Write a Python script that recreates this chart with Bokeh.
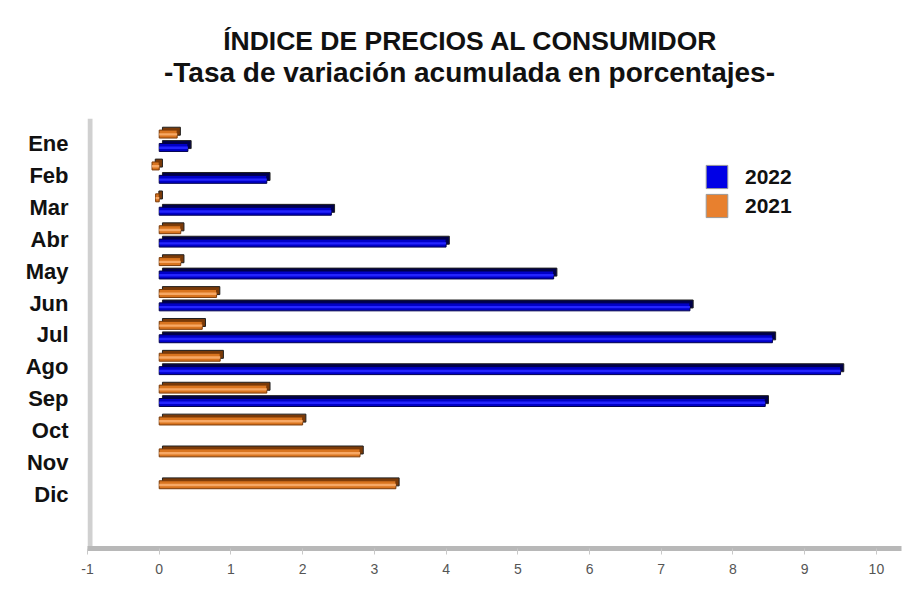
import numpy as np
from bokeh.plotting import figure
from bokeh.models import Range1d, FixedTicker, Legend, LegendItem, Label, ColumnDataSource, BoxAnnotation
from bokeh.embed import file_html
from bokeh.resources import INLINE

months = ["Ene", "Feb", "Mar", "Abr", "May", "Jun", "Jul", "Ago", "Sep", "Oct", "Nov", "Dic"]
ipc_2022 = [0.4, 1.5, 2.4, 4.0, 5.5, 7.4, 8.55, 9.5, 8.45, np.nan, np.nan, np.nan]
ipc_2021 = [0.25, -0.1, -0.05, 0.3, 0.3, 0.8, 0.6, 0.85, 1.5, 2.0, 2.8, 3.3]
x_ticks = list(range(-1, 11))
x_tick_labels = {t: str(t) for t in x_ticks}
title_main = "ÍNDICE DE PRECIOS AL CONSUMIDOR"
title_sub = "-Tasa de variación acumulada en porcentajes-"

FONT = "Liberation Sans"
Y_TOP_AXIS = -0.78   # where the visible value axis starts (category units)

p = figure(width=915, height=592, output_backend="svg", toolbar_location=None,
           x_range=Range1d(-1, 10.35), y_range=Range1d(12.7, -4.49),
           min_border_left=87, min_border_right=14, min_border_bottom=44, min_border_top=0)
p.outline_line_color = None
p.grid.visible = False

BAR_H = 0.25
DX, DY = 0.045, 0.09

def draw_series(vals, offset, main, dark, light):
    idx = np.arange(len(months))
    v = np.array(vals, dtype=float)
    m = ~np.isnan(v)
    y = idx[m] + offset
    vv = v[m]
    src_back = ColumnDataSource(dict(y=y - DY, left=np.zeros_like(vv) + DX, right=vv + DX))
    src = ColumnDataSource(dict(y=y, left=np.zeros_like(vv), right=vv))
    src_hi = ColumnDataSource(dict(y=y + 0.01, left=np.zeros_like(vv), right=vv))
    p.hbar(y="y", left="left", right="right", height=BAR_H, source=src_back,
           fill_color=dark, line_color="#202020", line_width=1)
    p.hbar(y="y", left="left", right="right", height=BAR_H, source=src,
           fill_color=main, line_color=dark, line_width=1)
    p.hbar(y="y", left="left", right="right", height=BAR_H * 0.3, source=src_hi,
           fill_color=light, line_color=None)

draw_series(ipc_2021, -0.3, "#d9741f", "#7a3a08", "#f7a865")
draw_series(ipc_2022, 0.12, "#0000c8", "#00004a", "#2424ff")

# vertical gray wall of the category axis
p.add_layout(BoxAnnotation(left=0, right=5, left_units="screen", right_units="screen",
                           top=Y_TOP_AXIS, fill_color="#d0d0d0", fill_alpha=1,
                           line_color=None, level="underlay"))

lr_22 = p.hbar(y=[np.nan], left=[0], right=[0], height=1, fill_color="#0000e6", line_color="#9a9a9a")
lr_21 = p.hbar(y=[np.nan], left=[0], right=[0], height=1, fill_color="#e8802e", line_color="#9a9a9a")
legend = Legend(items=[LegendItem(label="2022", renderers=[lr_22]),
                       LegendItem(label="2021", renderers=[lr_21])],
                location=(616, 328), glyph_width=27, glyph_height=29, label_height=29,
                spacing=0, padding=0, margin=0, border_line_color=None,
                background_fill_alpha=0, label_text_font_size="21px",
                label_text_font_style="bold", label_text_font=FONT,
                label_text_color="#111111", label_standoff=15)
p.add_layout(legend)

p.xaxis.ticker = FixedTicker(ticks=x_ticks)
p.xaxis.major_label_overrides = x_tick_labels
p.xaxis.axis_line_color = "#b8b8b8"
p.xaxis.axis_line_width = 5
p.xaxis.major_tick_line_color = "#c8c8c8"
p.xaxis.major_tick_in = 0
p.xaxis.major_tick_out = 6
p.xaxis.minor_tick_line_color = None
p.xaxis.major_label_text_color = "#555555"
p.xaxis.major_label_text_font_size = "14px"
p.xaxis.major_label_text_font = FONT
p.xaxis.major_label_standoff = 9

p.yaxis.ticker = FixedTicker(ticks=list(range(len(months))))
p.yaxis.major_label_overrides = {i: m for i, m in enumerate(months)}
p.yaxis.axis_line_color = None
p.yaxis.major_tick_line_color = None
p.yaxis.minor_tick_line_color = None
p.yaxis.major_label_text_font_size = "22px"
p.yaxis.major_label_text_font_style = "bold"
p.yaxis.major_label_text_font = FONT
p.yaxis.major_label_text_color = "#111111"
p.yaxis.major_label_standoff = 13

p.add_layout(Label(x=383, y=508, x_units="screen", y_units="screen", text=title_main,
                   text_align="center", text_baseline="alphabetic", text_font=FONT,
                   text_font_size="26.5px", text_font_style="bold", text_color="#111111"))
p.add_layout(Label(x=382, y=476, x_units="screen", y_units="screen", text=title_sub,
                   text_align="center", text_baseline="alphabetic", text_font=FONT,
                   text_font_size="28px", text_font_style="bold", text_color="#111111"))

open("out.html", "w").write(file_html(p, INLINE))
